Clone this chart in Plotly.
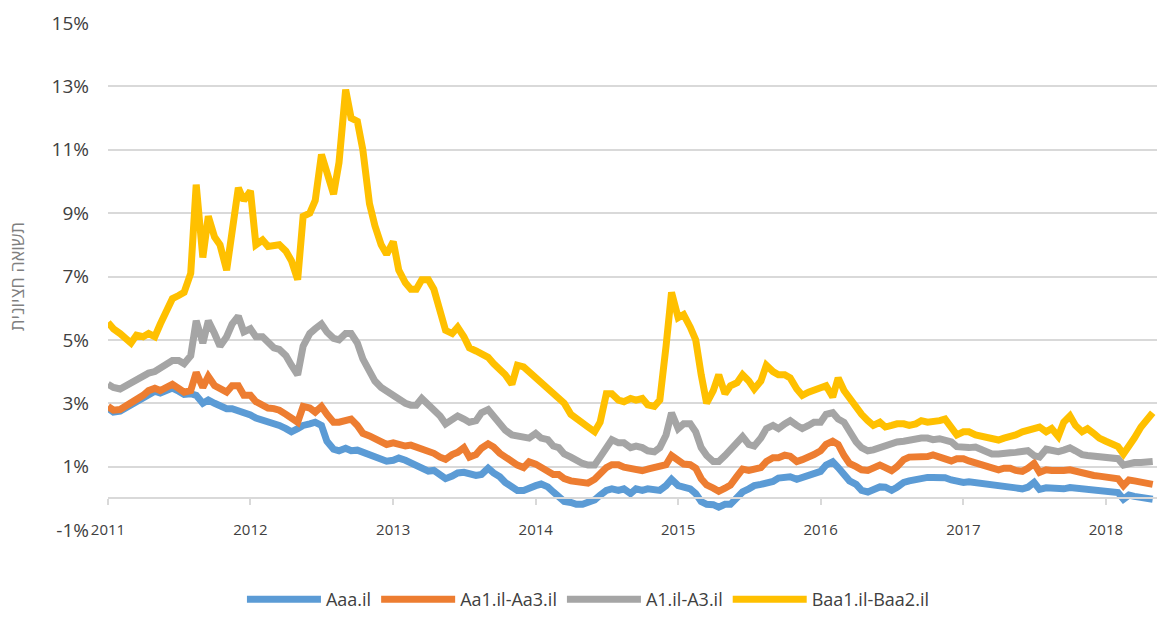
import pandas as pd
import plotly.graph_objects as go

# semi-monthly observation dates (1st and 15th of each month)
dates = pd.date_range("2011-01-01", "2018-05-01", freq="SMS")

series_names = ["Aaa.il", "Aa1.il-Aa3.il", "A1.il-A3.il", "Baa1.il-Baa2.il"]
series_colors = ["#5B9BD5", "#ED7D31", "#A5A5A5", "#FFC000"]

aaa = [2.85, 2.72, 2.75, 2.85, 2.95, 3.1, 3.2, 3.3, 3.38, 3.32, 3.4, 3.48, 3.38, 3.28, 3.3, 3.25, 3.0, 3.1, 3.0, 2.9,
       2.83, 2.83, 2.78, 2.72, 2.63, 2.53, 2.47, 2.4, 2.37, 2.3, 2.2, 2.1, 2.2, 2.3, 2.35, 2.4, 2.3, 1.8, 1.55, 1.5,
       1.58, 1.5, 1.52, 1.45, 1.38, 1.3, 1.23, 1.17, 1.2, 1.27, 1.2, 1.12, 1.06, 0.97, 0.86, 0.88, 0.77, 0.62, 0.7, 0.8,
       0.82, 0.75, 0.72, 0.75, 0.95, 0.8, 0.68, 0.5, 0.38, 0.25, 0.25, 0.34, 0.4, 0.45, 0.36, 0.2, 0.05, -0.1, -0.13, -0.19,
       -0.19, -0.15, -0.05, 0.1, 0.25, 0.3, 0.25, 0.3, 0.15, 0.3, 0.25, 0.3, 0.3, 0.25, 0.4, 0.6, 0.4, 0.34, 0.3, 0.15,
       -0.1, -0.19, -0.2, -0.28, -0.19, -0.19, 0.0, 0.2, 0.3, 0.4, 0.44, 0.46, 0.53, 0.64, 0.66, 0.68, 0.6, 0.66, 0.7, 0.75,
       0.85, 1.05, 1.15, 0.97, 0.75, 0.55, 0.44, 0.25, 0.2, 0.28, 0.36, 0.35, 0.25, 0.35, 0.5, 0.55, 0.6, 0.66, 0.66, 0.66,
       0.68, 0.65, 0.58, 0.53, 0.5, 0.52, 0.5, 0.47, 0.44, 0.44, 0.42, 0.38, 0.36, 0.33, 0.3, 0.35, 0.5, 0.28, 0.33, 0.32,
       0.3, 0.3, 0.34, 0.32, 0.3, 0.28, 0.26, 0.24, 0.22, 0.2, 0.18, -0.03, 0.1, 0.06, 0.03, 0.0, -0.03]

aa = [2.9, 2.78, 2.8, 2.9, 3.0, 3.15, 3.25, 3.4, 3.47, 3.4, 3.5, 3.6, 3.47, 3.35, 3.4, 3.97, 3.5, 3.85, 3.56, 3.45,
      3.35, 3.55, 3.55, 3.25, 3.25, 3.05, 2.94, 2.85, 2.83, 2.78, 2.65, 2.55, 2.4, 2.9, 2.85, 2.72, 2.9, 2.65, 2.4, 2.4,
      2.45, 2.5, 2.3, 2.05, 1.97, 1.88, 1.75, 1.7, 1.75, 1.69, 1.65, 1.68, 1.62, 1.55, 1.47, 1.42, 1.3, 1.23, 1.38, 1.45,
      1.6, 1.3, 1.38, 1.58, 1.72, 1.62, 1.42, 1.3, 1.2, 1.05, 0.97, 1.15, 1.08, 0.98, 0.88, 0.75, 0.75, 0.62, 0.55, 0.53,
      0.48, 0.48, 0.6, 0.78, 0.97, 1.06, 1.06, 0.98, 0.92, 0.87, 0.87, 0.92, 0.98, 1.06, 1.06, 1.35, 1.2, 1.08, 1.06, 0.95,
      0.62, 0.42, 0.32, 0.22, 0.32, 0.42, 0.7, 0.92, 0.88, 0.9, 0.97, 1.16, 1.28, 1.28, 1.36, 1.33, 1.16, 1.22, 1.28, 1.38,
      1.5, 1.7, 1.8, 1.7, 1.35, 1.1, 1.0, 0.9, 0.88, 0.97, 1.05, 0.97, 0.87, 1.0, 1.22, 1.3, 1.29, 1.3, 1.32, 1.37,
      1.32, 1.28, 1.18, 1.25, 1.25, 1.18, 1.12, 1.06, 1.0, 0.92, 0.9, 0.95, 0.95, 0.88, 0.85, 0.95, 1.1, 0.82, 0.9, 0.88,
      0.85, 0.88, 0.9, 0.85, 0.78, 0.75, 0.72, 0.7, 0.68, 0.67, 0.62, 0.4, 0.58, 0.55, 0.53, 0.48, 0.44]

a = [3.6, 3.5, 3.45, 3.55, 3.6, 3.7, 3.85, 3.95, 4.0, 4.1, 4.25, 4.35, 4.35, 4.25, 4.5, 5.6, 4.9, 5.6, 5.2, 4.8,
     5.1, 5.5, 5.75, 5.25, 5.35, 5.1, 5.1, 4.9, 4.75, 4.7, 4.5, 4.2, 3.9, 4.8, 5.2, 5.35, 5.5, 5.25, 5.05, 5.0,
     5.2, 5.2, 4.9, 4.4, 3.97, 3.7, 3.5, 3.38, 3.25, 3.1, 3.0, 2.94, 2.94, 3.15, 2.95, 2.75, 2.6, 2.35, 2.5, 2.6,
     2.5, 2.4, 2.45, 2.7, 2.8, 2.6, 2.35, 2.15, 2.0, 1.95, 1.9, 1.9, 2.05, 1.9, 1.85, 1.65, 1.6, 1.4, 1.3, 1.2,
     1.1, 1.05, 1.05, 1.3, 1.65, 1.85, 1.75, 1.75, 1.6, 1.65, 1.6, 1.5, 1.47, 1.6, 2.0, 2.7, 2.2, 2.35, 2.35, 2.1,
     1.6, 1.35, 1.16, 1.16, 1.35, 1.55, 1.75, 1.95, 1.7, 1.65, 1.9, 2.2, 2.3, 2.2, 2.35, 2.45, 2.3, 2.2, 2.3, 2.4,
     2.4, 2.65, 2.7, 2.5, 2.4, 2.1, 1.78, 1.6, 1.5, 1.53, 1.6, 1.68, 1.75, 1.78, 1.8, 1.84, 1.84, 1.9, 1.9, 1.85,
     1.88, 1.85, 1.78, 1.63, 1.6, 1.6, 1.62, 1.55, 1.45, 1.4, 1.4, 1.44, 1.44, 1.45, 1.45, 1.5, 1.35, 1.3, 1.55, 1.5,
     1.47, 1.52, 1.59, 1.5, 1.38, 1.35, 1.32, 1.3, 1.28, 1.27, 1.25, 1.05, 1.1, 1.13, 1.13, 1.15, 1.16]

baa = [5.55, 5.35, 5.2, 5.05, 4.9, 5.15, 5.1, 5.2, 5.1, 5.5, 5.95, 6.3, 6.4, 6.5, 7.1, 9.9, 7.6, 8.9, 8.25, 8.0,
       7.2, 8.55, 9.8, 9.4, 9.7, 8.0, 8.15, 7.95, 8.0, 8.0, 7.8, 7.5, 6.9, 8.9, 9.0, 9.4, 10.85, 10.3, 9.6, 10.6,
       12.9, 12.0, 11.9, 11.0, 9.3, 8.6, 8.0, 7.7, 8.1, 7.2, 6.8, 6.6, 6.6, 6.9, 6.9, 6.6, 5.8, 5.3, 5.2, 5.4,
       5.1, 4.75, 4.65, 4.55, 4.45, 4.25, 4.05, 3.9, 3.6, 4.2, 4.15, 4.0, 3.85, 3.65, 3.5, 3.3, 3.2, 3.0, 2.65, 2.5,
       2.4, 2.25, 2.1, 2.4, 3.3, 3.3, 3.1, 3.05, 3.15, 3.1, 3.15, 2.95, 2.9, 3.1, 4.8, 6.5, 5.7, 5.8, 5.4, 5.0,
       3.9, 3.0, 3.4, 3.9, 3.3, 3.55, 3.65, 3.9, 3.7, 3.45, 3.7, 4.2, 4.0, 3.9, 3.9, 3.8, 3.45, 3.25, 3.35, 3.4,
       3.45, 3.55, 3.2, 3.8, 3.4, 3.15, 2.85, 2.65, 2.45, 2.3, 2.4, 2.25, 2.3, 2.35, 2.35, 2.3, 2.35, 2.45, 2.4, 2.4,
       2.45, 2.5, 2.25, 2.0, 2.1, 2.1, 2.0, 1.95, 1.94, 1.85, 1.84, 1.9, 1.94, 2.0, 2.1, 2.15, 2.2, 2.25, 2.1, 2.2,
       1.95, 2.4, 2.6, 2.3, 2.1, 2.2, 2.05, 1.9, 1.8, 1.7, 1.63, 1.4, 1.7, 1.9, 2.25, 2.5, 2.7]

y_tick_values = [-1, 1, 3, 5, 7, 9, 11, 13, 15]
y_tick_labels = ["-1%", "1%", "3%", "5%", "7%", "9%", "11%", "13%", "15%"]
y_title = "תשואה חציונית"

values = [aaa, aa, a, baa]
for v in values:
    assert len(v) == len(dates), (len(v), len(dates))

fig = go.Figure()
for name, color, vals in zip(series_names, series_colors, values):
    fig.add_trace(go.Scatter(
        x=dates, y=vals, name=name, mode="lines",
        line=dict(color=color, width=7),
        hoverinfo="skip",
    ))

FONT = "Open Sans, DejaVu Sans, sans-serif"
fig.update_layout(
    width=1157, height=618,
    margin=dict(l=108, r=0, t=23, b=82),
    paper_bgcolor="white", plot_bgcolor="white",
    font=dict(family=FONT, color="#404040"),
    showlegend=True,
    legend=dict(
        orientation="h", x=0.458, xanchor="center", y=-0.138, yanchor="middle",
        font=dict(size=18, color="#404040"), itemwidth=74, tracegroupgap=0,
    ),
    xaxis=dict(
        type="date",
        range=["2011-01-01", "2018-05-12"],
        anchor="free", position=0.0625,
        showline=True, linecolor="#D9D9D9", linewidth=1.5,
        ticks="outside", ticklen=6, tickcolor="#D9D9D9", tickwidth=1.5,
        dtick="M12", tick0="2011-01-01", tickformat="%Y",
        tickfont=dict(size=15, color="#404040"),
        ticklabelstandoff=12,
        showgrid=False, zeroline=False, automargin=False,
    ),
    yaxis=dict(
        range=[-1, 15],
        tickvals=y_tick_values, ticktext=y_tick_labels,
        tickfont=dict(size=19, color="#404040"),
        showgrid=True, gridcolor="#D9D9D9", gridwidth=1.5,
        zeroline=False, showline=False, ticks="",
        ticklabelstandoff=18, automargin=False,
        title=dict(text=y_title, font=dict(size=18, color="#7F7F7F"), standoff=22),
    ),
)

# remove the browser's default 8px body margin so the figure fills the window exactly
fig.write_html("out.html", config={"displayModeBar": False},
               post_script="document.body.style.margin='0';")
